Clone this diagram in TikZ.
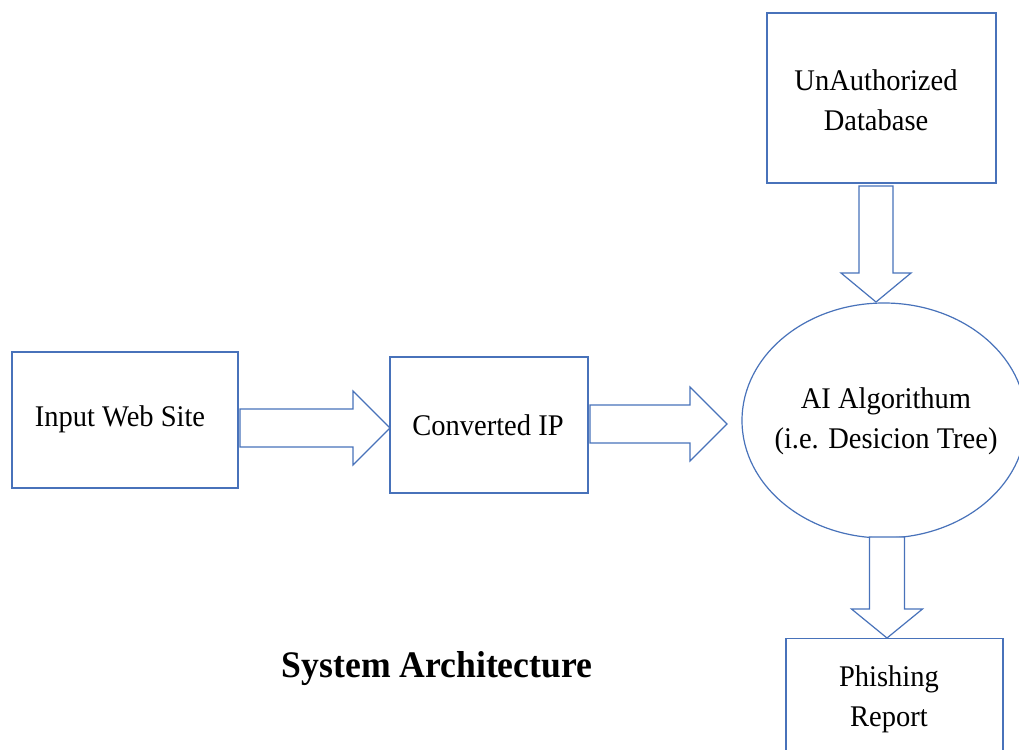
\documentclass[tikz,border=0pt]{standalone}
\usepackage{fontspec}
\setmainfont{Liberation Serif}[FakeStretch=0.95]
\usetikzlibrary{shapes.geometric,calc}
\definecolor{lineblue}{RGB}{72,114,186}
\newcommand\myharrow[6]{% x1, xh, xt, yc, sw, hw
  \draw[barrow] (#1,-#4+#5) -- (#2,-#4+#5) -- (#2,-#4+#6) -- (#3,-#4) -- (#2,-#4-#6) -- (#2,-#4-#5) -- (#1,-#4-#5) -- cycle;}
\newcommand\myvarrow[6]{% y1, yh, yt, xc, sw, hw
  \draw[barrow] (#4-#5,-#1) -- (#4-#5,-#2) -- (#4-#6,-#2) -- (#4,-#3) -- (#4+#6,-#2) -- (#4+#5,-#2) -- (#4+#5,-#1) -- cycle;}
\tikzset{
  box/.style={draw=lineblue, line width=1.2pt, rectangle, inner sep=0pt},
  lbl/.style={align=center, inner sep=0pt, font=\fontsize{30}{40}\selectfont, text=black},
  barrow/.style={draw=lineblue, line width=1.2pt, fill=white, line join=miter},
  title/.style={font=\bfseries\fontsize{37.5}{40}\selectfont, text=black, inner sep=0pt}
}
\begin{document}
\begin{tikzpicture}[x=1pt,y=1pt]
\useasboundingbox[fill=white] (0,0) rectangle (1019,-749);
\node[box, minimum width=226pt, minimum height=136pt] (in) at (125,-420) {};
\node[lbl] (int) at (120,-419) {Input Web Site};
\node[box, minimum width=198pt, minimum height=136pt] (ip) at (489,-425) {};
\node[lbl] (ipt) at (488,-425) {Converted IP};
\node[box, minimum width=229pt, minimum height=170pt] (db) at (881.5,-98) {};
\node[lbl] (dbt) at (876,-100) {UnAuthorized\\Database};
\node[draw=lineblue, line width=1.2pt, ellipse, inner sep=0pt, minimum width=284pt, minimum height=235pt] (ai) at (884,-420.5) {};
\node[lbl] (ait) at (886,-421) {AI Algorithum\\(i.e. Desicion Tree)};
\node[box, minimum width=217pt, minimum height=124pt, anchor=north] (pr) at (894.5,-638) {};
\node[lbl] (prt) at (889,-699) {Phishing\\Report};
\node[title, anchor=base] (t) at (437,-677) {System Architecture};
\myharrow{240}{353}{390}{428}{19}{37}
\myharrow{590}{690}{727}{424}{19}{37}
\myvarrow{186}{273}{302}{876}{17}{35}
\myvarrow{537}{609}{638}{887}{17.5}{35.5}
\end{tikzpicture}
\end{document}
